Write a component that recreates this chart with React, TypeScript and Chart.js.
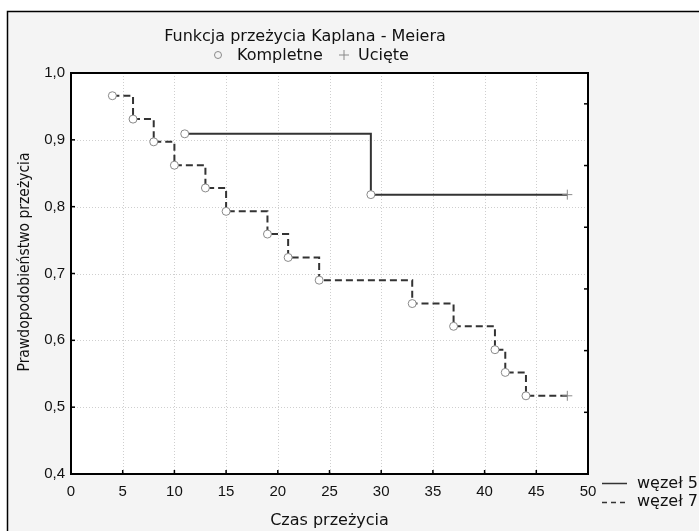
import React, { useEffect, useRef } from "react";
import { Chart, registerables } from "chart.js";

Chart.register(...registerables);

// ---- data ----
const node5Times = [11, 29, 48];
const node5Surv = [0.909, 0.818, 0.818];
const node5Status = ["event", "event", "censored"];

const node7Times = [4, 6, 8, 10, 13, 15, 19, 21, 24, 33, 37, 41, 42, 44, 48];
const node7Surv = [0.966, 0.931, 0.897, 0.862, 0.828, 0.793, 0.759, 0.724, 0.69, 0.655, 0.621, 0.586, 0.552, 0.517, 0.517];
const node7Status = ["event", "event", "event", "event", "event", "event", "event", "event", "event", "event", "event", "event", "event", "event", "censored"];

const xTickValues = [0, 5, 10, 15, 20, 25, 30, 35, 40, 45, 50];
const yTickValues = [0.4, 0.5, 0.6, 0.7, 0.8, 0.9, 1.0];
const rightTickValues = [0, 1, 2, 3, 4, 5, 6];

const titleText = "Funkcja przeżycia Kaplana - Meiera";
const markerLabels = ["Kompletne", "Ucięte"];
const seriesLabels = ["węzeł 5", "węzeł 7"];
const xTitle = "Czas przeżycia";
const yTitle = "Prawdopodobieństwo przeżycia";

const LINE = "#333333";
const MARK = "#8a8a8a";
const TXT = "#111111";
const FONT = "'DejaVu Sans', sans-serif";
const DASH = [7, 4];

function toPoints(xs: number[], ys: number[]) {
  return xs.map((x, i) => ({ x, y: ys[i] }));
}
function styles(status: string[]) {
  return status.map((s) => (s === "event" ? "circle" : "cross"));
}
function radii(status: string[]) {
  return status.map((s) => (s === "event" ? 4 : 5));
}

const decor = {
  id: "decor",
  beforeDraw(chart: any) {
    const ctx = chart.ctx;
    const a = chart.chartArea;
    ctx.save();
    ctx.fillStyle = "#ffffff";
    ctx.fillRect(0, 0, chart.width, chart.height);
    ctx.fillStyle = "#f4f4f4";
    ctx.fillRect(7, 11, chart.width, chart.height);
    ctx.strokeStyle = "#000";
    ctx.lineWidth = 1.5;
    ctx.strokeRect(7.5, 11.5, chart.width + 20, chart.height + 20);
    ctx.fillStyle = "#ffffff";
    ctx.fillRect(a.left, a.top, a.right - a.left, a.bottom - a.top);
    ctx.restore();
  },
  beforeDatasetsDraw(chart: any) {
    const ctx = chart.ctx;
    const a = chart.chartArea;
    const xs = chart.scales.x;
    const ys = chart.scales.y;
    ctx.save();
    ctx.strokeStyle = "#cfcfcf";
    ctx.lineWidth = 1;
    ctx.setLineDash([1, 2]);
    xTickValues.slice(1, -1).forEach((v) => {
      const px = Math.round(xs.getPixelForValue(v)) + 0.5;
      ctx.beginPath();
      ctx.moveTo(px, a.top);
      ctx.lineTo(px, a.bottom);
      ctx.stroke();
    });
    yTickValues.slice(1, -1).forEach((v) => {
      const py = Math.round(ys.getPixelForValue(v)) + 0.5;
      ctx.beginPath();
      ctx.moveTo(a.left, py);
      ctx.lineTo(a.right, py);
      ctx.stroke();
    });
    ctx.restore();
  },
  afterDatasetsDraw(chart: any) {
    const ctx = chart.ctx;
    const a = chart.chartArea;
    const xs = chart.scales.x;
    const ys = chart.scales.y;
    const y2 = chart.scales.y2;
    ctx.save();
    ctx.strokeStyle = "#000";
    ctx.lineWidth = 2;
    ctx.strokeRect(a.left, a.top, a.right - a.left, a.bottom - a.top);
    ctx.lineWidth = 1.5;
    xTickValues.forEach((v) => {
      const px = xs.getPixelForValue(v);
      ctx.beginPath();
      ctx.moveTo(px, a.bottom);
      ctx.lineTo(px, a.bottom - 4);
      ctx.stroke();
    });
    yTickValues.forEach((v) => {
      const py = ys.getPixelForValue(v);
      ctx.beginPath();
      ctx.moveTo(a.left, py);
      ctx.lineTo(a.left + 4, py);
      ctx.stroke();
    });
    rightTickValues.forEach((v) => {
      const py = y2.getPixelForValue(v);
      ctx.beginPath();
      ctx.moveTo(a.right, py);
      ctx.lineTo(a.right - 4, py);
      ctx.stroke();
    });
    ctx.restore();
  },
  afterDraw(chart: any) {
    const ctx = chart.ctx;
    const a = chart.chartArea;
    ctx.save();
    ctx.fillStyle = TXT;
    ctx.font = `16px ${FONT}`;
    ctx.textBaseline = "alphabetic";
    ctx.textAlign = "center";
    ctx.fillText(titleText, 305, 41);

    // marker legend
    ctx.textAlign = "left";
    ctx.strokeStyle = MARK;
    ctx.lineWidth = 1;
    ctx.beginPath();
    ctx.arc(218, 55, 3.5, 0, Math.PI * 2);
    ctx.stroke();
    ctx.fillText(markerLabels[0], 237, 60);
    ctx.beginPath();
    ctx.moveTo(339, 55);
    ctx.lineTo(349, 55);
    ctx.moveTo(344, 50);
    ctx.lineTo(344, 60);
    ctx.stroke();
    ctx.fillText(markerLabels[1], 358, 60);

    // axis titles
    ctx.textAlign = "center";
    ctx.textBaseline = "middle";
    ctx.fillText(xTitle, (a.left + a.right) / 2, 521);
    ctx.save();
    ctx.translate(25, 262);
    ctx.rotate(-Math.PI / 2);
    ctx.scale(0.87, 1);
    ctx.fillText(yTitle, 0, 0);
    ctx.restore();

    // series legend
    ctx.textAlign = "left";
    ctx.strokeStyle = LINE;
    ctx.lineWidth = 1.5;
    ctx.beginPath();
    ctx.moveTo(602, 483.5);
    ctx.lineTo(627, 483.5);
    ctx.stroke();
    ctx.setLineDash([5, 4]);
    ctx.beginPath();
    ctx.moveTo(602, 502.5);
    ctx.lineTo(627, 502.5);
    ctx.stroke();
    ctx.setLineDash([]);
    ctx.fillText(seriesLabels[0], 637, 484);
    ctx.fillText(seriesLabels[1], 637, 502);
    ctx.restore();
  },
};

export default function App() {
  const ref = useRef<HTMLCanvasElement | null>(null);
  useEffect(() => {
    if (!ref.current) return;
    const chart = new Chart(ref.current, {
      type: "line",
      data: {
        datasets: [
          {
            label: seriesLabels[0],
            data: toPoints(node5Times, node5Surv),
            stepped: "before",
            borderColor: LINE,
            borderWidth: 2,
            pointStyle: styles(node5Status) as any,
            pointRadius: radii(node5Status),
            pointBorderColor: MARK,
            pointBorderWidth: 1,
            pointBackgroundColor: "#ffffff",
            fill: false,
          },
          {
            label: seriesLabels[1],
            data: toPoints(node7Times, node7Surv),
            stepped: "before",
            borderColor: LINE,
            borderWidth: 2,
            borderDash: DASH,
            pointStyle: styles(node7Status) as any,
            pointRadius: radii(node7Status),
            pointBorderColor: MARK,
            pointBorderWidth: 1,
            pointBackgroundColor: "#ffffff",
            fill: false,
          },
        ],
      },
      options: {
        animation: false,
        responsive: false,
        devicePixelRatio: 1,
        layout: { padding: { left: 0, top: 73, right: 111, bottom: 0 } },
        plugins: {
          legend: { display: false },
          title: { display: false },
          tooltip: { enabled: false },
        },
        scales: {
          x: {
            type: "linear",
            min: 0,
            max: 50,
            afterFit: (s: any) => {
              s.height = 57;
            },
            afterBuildTicks: (s: any) => {
              s.ticks = xTickValues.map((v) => ({ value: v }));
            },
            grid: { display: false, drawTicks: false },
            border: { display: false },
            ticks: {
              padding: 9,
              color: TXT,
              font: { family: "'Liberation Sans', Arial, sans-serif", size: 15 },
              maxRotation: 0,
            },
          },
          y: {
            type: "linear",
            min: 0.4,
            max: 1.0,
            afterFit: (s: any) => {
              s.width = 71;
            },
            afterBuildTicks: (s: any) => {
              s.ticks = yTickValues.map((v) => ({ value: v }));
            },
            grid: { display: false, drawTicks: false },
            border: { display: false },
            ticks: {
              padding: 6,
              color: TXT,
              font: { family: "'Liberation Sans', Arial, sans-serif", size: 15 },
              callback: (v: any) => Number(v).toFixed(1).replace(".", ","),
            },
          },
          y2: {
            type: "linear",
            position: "right",
            display: false,
            min: 0,
            max: 6.5,
          },
        },
      },
      plugins: [decor],
    });
    return () => chart.destroy();
  }, []);
  return (
    <div style={{ position: "fixed", left: 0, top: 0, width: 699, height: 531 }}>
      <canvas ref={ref} width={699} height={531} style={{ display: "block", width: 699, height: 531 }} />
    </div>
  );
}
